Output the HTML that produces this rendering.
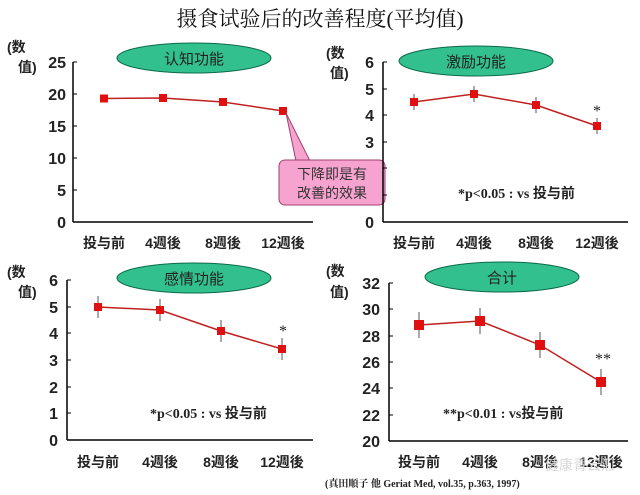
<!DOCTYPE html>
<html><head><meta charset="utf-8"><style>
body{margin:0;background:#fff}
svg{display:block}
text{font-family:"Liberation Sans","Noto Sans CJK SC",sans-serif;font-weight:bold;fill:#222}
.t{font-size:16px}
.l{font-size:14px}
.s{font-family:"Liberation Serif","Noto Serif CJK SC",serif}
</style></head><body>
<svg width="640" height="495" viewBox="0 0 640 495">
<text x="320" y="26" text-anchor="middle" class="s" style="font-size:21px;font-weight:normal;fill:#111">摄食试验后的改善程度(平均值)</text>

<!-- Panel 1 -->
<g>
<ellipse cx="194" cy="58" rx="77" ry="15" fill="#33c08f" stroke="#0a6a4a" stroke-width="1"/>
<text x="194" y="64" text-anchor="middle" style="font-size:15px;font-weight:normal">认知功能</text>
<text x="7" y="52" class="l">(数</text><text x="18" y="72" class="l">值)</text>
<line x1="73" y1="62" x2="73" y2="222" stroke="#000" stroke-width="1.5"/>
<line x1="73" y1="222" x2="313" y2="222" stroke="#000" stroke-width="1.5"/>
<g class="t" text-anchor="end">
<text x="66" y="68">25</text><text x="66" y="100">20</text><text x="66" y="132">15</text><text x="66" y="164">10</text><text x="66" y="196">5</text><text x="66" y="228">0</text></g>
<g stroke="#000"><line x1="73" y1="62" x2="77" y2="62"/><line x1="73" y1="94" x2="77" y2="94"/><line x1="73" y1="126" x2="77" y2="126"/><line x1="73" y1="158" x2="77" y2="158"/><line x1="73" y1="190" x2="77" y2="190"/></g>
<polyline points="104,98.5 163,98 223,102 283,111" fill="none" stroke="#c02020" stroke-width="1.5"/>
<g fill="#e01010"><rect x="100" y="94.5" width="8" height="8"/><rect x="159" y="94" width="8" height="8"/><rect x="219" y="98" width="8" height="8"/><rect x="279" y="107" width="8" height="8"/></g>
<g class="l" text-anchor="middle"><text x="104" y="248">投与前</text><text x="163" y="248">4週後</text><text x="223" y="248">8週後</text><text x="283" y="248">12週後</text></g>
<path d="M286,113 L296,161 L310,161 Z" fill="#f7a3cf" stroke="#a04070"/>
<rect x="279" y="160" width="106" height="45" rx="6" fill="#f7a3cf" stroke="#a04070"/>
<path d="M288,162 L296,162 L310,162" stroke="#f7a3cf" stroke-width="3" fill="none"/>
<text x="332" y="179" text-anchor="middle" style="font-size:14px;font-weight:normal;fill:#333">下降即是有</text>
<text x="332" y="198" text-anchor="middle" style="font-size:14px;font-weight:normal;fill:#333">改善的效果</text>
</g>

<!-- Panel 2 -->
<g>
<ellipse cx="476" cy="61" rx="77" ry="15" fill="#33c08f" stroke="#0a6a4a"/>
<text x="476" y="67" text-anchor="middle" style="font-size:15px;font-weight:normal">激励功能</text>
<text x="326" y="58" class="l">(数</text><text x="330" y="78" class="l">值)</text>
<line x1="383" y1="62" x2="383" y2="222" stroke="#000" stroke-width="1.5"/>
<line x1="383" y1="222" x2="628" y2="222" stroke="#000" stroke-width="1.5"/>
<g class="t" text-anchor="end"><text x="374" y="68">6</text><text x="374" y="95">5</text><text x="374" y="121">4</text><text x="374" y="148">3</text><text x="374" y="228">0</text></g>
<g stroke="#000"><line x1="383" y1="62" x2="387" y2="62"/><line x1="383" y1="89" x2="387" y2="89"/><line x1="383" y1="115" x2="387" y2="115"/><line x1="383" y1="142" x2="387" y2="142"/><line x1="383" y1="168" x2="387" y2="168"/><line x1="383" y1="195" x2="387" y2="195"/></g>
<g stroke="#555"><line x1="414" y1="94" x2="414" y2="110"/><line x1="474" y1="86" x2="474" y2="102"/><line x1="536" y1="97" x2="536" y2="113"/><line x1="597" y1="118" x2="597" y2="134"/></g>
<polyline points="414,102 474,94 536,105 597,126" fill="none" stroke="#c02020" stroke-width="1.5"/>
<g fill="#e01010"><rect x="410" y="98" width="8" height="8"/><rect x="470" y="90" width="8" height="8"/><rect x="532" y="101" width="8" height="8"/><rect x="593" y="122" width="8" height="8"/></g>
<text x="597" y="116" text-anchor="middle" class="s" style="font-size:16px;font-weight:normal">*</text>
<text x="458" y="198" class="s" style="font-size:14px">*p&lt;0.05 : vs <tspan font-family="Liberation Sans,Noto Sans CJK SC,sans-serif">投与前</tspan></text>
<g class="l" text-anchor="middle"><text x="414" y="248">投与前</text><text x="474" y="248">4週後</text><text x="536" y="248">8週後</text><text x="597" y="248">12週後</text></g>
</g>

<!-- Panel 3 -->
<g>
<ellipse cx="194" cy="278" rx="77" ry="15" fill="#33c08f" stroke="#0a6a4a"/>
<text x="194" y="284" text-anchor="middle" style="font-size:15px;font-weight:normal">感情功能</text>
<text x="7" y="277" class="l">(数</text><text x="18" y="297" class="l">值)</text>
<line x1="67" y1="280" x2="67" y2="440" stroke="#000" stroke-width="1.5"/>
<line x1="67" y1="440" x2="313" y2="440" stroke="#000" stroke-width="1.5"/>
<g class="t" text-anchor="end"><text x="58" y="286">6</text><text x="58" y="313">5</text><text x="58" y="339">4</text><text x="58" y="366">3</text><text x="58" y="393">2</text><text x="58" y="419">1</text><text x="58" y="446">0</text></g>
<g stroke="#000"><line x1="67" y1="280" x2="71" y2="280"/><line x1="67" y1="307" x2="71" y2="307"/><line x1="67" y1="333" x2="71" y2="333"/><line x1="67" y1="360" x2="71" y2="360"/><line x1="67" y1="387" x2="71" y2="387"/><line x1="67" y1="413" x2="71" y2="413"/></g>
<g stroke="#555"><line x1="98" y1="296" x2="98" y2="318"/><line x1="160" y1="299" x2="160" y2="321"/><line x1="221" y1="320" x2="221" y2="342"/><line x1="282" y1="338" x2="282" y2="360"/></g>
<polyline points="98,307 160,310 221,331 282,349" fill="none" stroke="#c02020" stroke-width="1.5"/>
<g fill="#e01010"><rect x="94" y="303" width="8" height="8"/><rect x="156" y="306" width="8" height="8"/><rect x="217" y="327" width="8" height="8"/><rect x="278" y="345" width="8" height="8"/></g>
<text x="283" y="336" text-anchor="middle" class="s" style="font-size:16px;font-weight:normal">*</text>
<text x="150" y="418" class="s" style="font-size:14px">*p&lt;0.05 : vs <tspan font-family="Liberation Sans,Noto Sans CJK SC,sans-serif">投与前</tspan></text>
<g class="l" text-anchor="middle"><text x="98" y="467">投与前</text><text x="160" y="467">4週後</text><text x="221" y="467">8週後</text><text x="282" y="467">12週後</text></g>
</g>

<!-- Panel 4 -->
<g>
<ellipse cx="502" cy="277" rx="77" ry="15" fill="#33c08f" stroke="#0a6a4a"/>
<text x="502" y="283" text-anchor="middle" style="font-size:15px;font-weight:normal">合计</text>
<text x="326" y="276" class="l">(数</text><text x="330" y="297" class="l">值)</text>
<line x1="389" y1="283" x2="389" y2="441" stroke="#000" stroke-width="1.5"/>
<line x1="389" y1="441" x2="628" y2="441" stroke="#000" stroke-width="1.5"/>
<g class="t" text-anchor="end"><text x="380" y="289">32</text><text x="380" y="315">30</text><text x="380" y="342">28</text><text x="380" y="368">26</text><text x="380" y="394">24</text><text x="380" y="421">22</text><text x="380" y="447">20</text></g>
<g stroke="#000"><line x1="389" y1="283" x2="393" y2="283"/><line x1="389" y1="309" x2="393" y2="309"/><line x1="389" y1="336" x2="393" y2="336"/><line x1="389" y1="362" x2="393" y2="362"/><line x1="389" y1="388" x2="393" y2="388"/><line x1="389" y1="415" x2="393" y2="415"/></g>
<g stroke="#555"><line x1="419" y1="312" x2="419" y2="338"/><line x1="480" y1="308" x2="480" y2="334"/><line x1="540" y1="332" x2="540" y2="358"/><line x1="601" y1="369" x2="601" y2="395"/></g>
<polyline points="419,325 480,321 540,345 601,382" fill="none" stroke="#c02020" stroke-width="1.5"/>
<g fill="#e01010"><rect x="414" y="320" width="10" height="10"/><rect x="475" y="316" width="10" height="10"/><rect x="535" y="340" width="10" height="10"/><rect x="596" y="377" width="10" height="10"/></g>
<text x="603" y="364" text-anchor="middle" class="s" style="font-size:16px;font-weight:normal">**</text>
<text x="443" y="418" class="s" style="font-size:14px">**p&lt;0.01 : vs<tspan font-family="Liberation Sans,Noto Sans CJK SC,sans-serif">投与前</tspan></text>
<g class="l" text-anchor="middle"><text x="419" y="467">投与前</text><text x="480" y="467">4週後</text><text x="540" y="467">8週後</text><text x="601" y="467">12週後</text></g>
<text x="325" y="487" class="s" style="font-size:10px">(真田順子 他  Geriat Med, vol.35, p.363, 1997)</text>
<text x="545" y="470" style="font-size:14px;font-weight:normal;fill:#d8d8d8">健康青云汇</text>
</g>
</svg>
</body></html>
